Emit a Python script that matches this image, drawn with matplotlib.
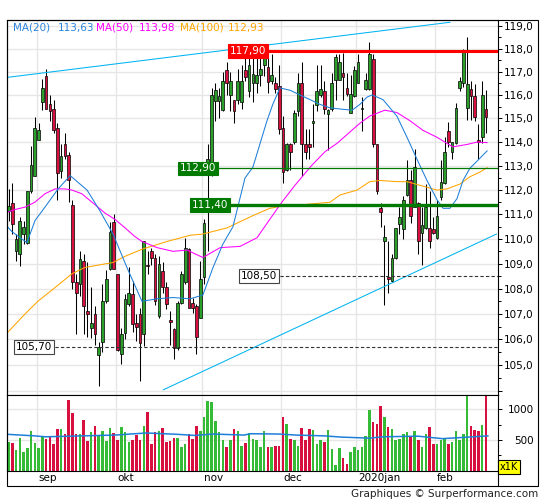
import matplotlib
matplotlib.use("Agg")
import matplotlib.pyplot as plt
import matplotlib.transforms as mtransforms
from matplotlib.ticker import FixedLocator, FuncFormatter, NullFormatter
from matplotlib.lines import Line2D
from matplotlib.patches import Rectangle
import numpy as np

# daily candles, aug 2019 -> feb 2020
opens = [111.15, 111.45, 109.5, 109.4, 110.2, 109.85, 111.95, 112.6, 114.1, 115.7,
         116.8, 115.6, 115.4, 114.6, 112.8, 113.9, 113.45, 111.4, 108.25, 108.2,
         109.1, 107.1, 106.45, 107.0, 105.4, 105.9, 107.5, 108.8, 110.7, 108.6,
         105.45, 106.25, 107.4, 107.8, 106.65, 107.0, 106.2, 108.95, 109.5, 109.25,
         106.9, 108.7, 108.05, 106.75, 106.4, 105.65, 107.45, 108.25, 109.6, 107.45,
         107.3, 106.85, 108.45, 112.7, 112.8, 115.75, 115.75, 115.35, 117.05, 116.0,
         115.8, 115.8, 115.7, 117.05, 116.15, 116.5, 116.5, 116.85, 117.3, 117.2,
         116.6, 116.5, 116.4, 114.6, 112.85, 113.9, 114.0, 115.3, 116.5, 113.9,
         113.9, 114.8, 115.55, 116.0, 116.15, 115.2, 115.4, 116.65, 116.65, 116.95,
         116.3, 115.25, 115.95, 116.5, 115.4, 116.25, 116.25, 117.55, 113.9, 111.25,
         109.9, 108.45, 108.3, 109.25, 110.6, 110.4, 111.8, 112.4, 111.3, 111.45,
         110.25, 110.45, 110.45, 110.4, 110.05, 111.7, 112.3, 114.45, 113.6, 113.95,
         116.3, 116.5, 115.45, 116.25, 115.95, 114.1, 114.2, 115.4]
highs = [112.05, 112.3, 110.2, 110.9, 110.75, 111.95, 113.85, 115.05, 114.8, 116.7,
         117.1, 116.0, 115.8, 114.8, 113.9, 114.4, 113.6, 111.6, 108.6, 109.5,
         109.4, 109.05, 108.05, 107.3, 105.9, 108.2, 108.75, 110.7, 111.0, 108.6,
         106.45, 107.8, 108.85, 108.3, 107.0, 107.25, 109.9, 109.5, 109.65, 109.4,
         109.3, 109.05, 108.25, 107.1, 106.45, 107.5, 108.7, 110.05, 109.65, 107.65,
         107.4, 109.1, 110.8, 113.9, 116.3, 116.5, 116.3, 117.0, 117.4, 117.0,
         115.8, 117.1, 117.3, 117.65, 117.7, 117.75, 117.6, 117.75, 117.9, 117.75,
         117.75, 116.75, 117.3, 115.1, 113.95, 113.95, 115.35, 116.95, 117.4, 114.55,
         114.55, 115.6, 117.3, 117.3, 116.6, 115.4, 116.95, 117.75, 117.75, 117.8,
         116.95, 116.85, 117.25, 117.75, 115.9, 116.95, 118.3, 117.75, 113.9, 111.45,
         110.55, 109.9, 109.4, 110.45, 111.3, 111.75, 113.25, 112.85, 113.7, 111.5,
         111.3, 112.25, 111.95, 110.9, 111.6, 113.25, 114.2, 114.85, 114.0, 115.65,
         116.75, 118.0, 118.5, 116.6, 116.45, 114.75, 116.6, 116.2]
lows = [110.75, 110.2, 109.1, 108.9, 109.8, 109.8, 111.9, 112.6, 114.1, 115.35,
        115.4, 114.9, 114.4, 111.6, 112.5, 113.3, 111.5, 108.0, 106.2, 107.7,
        106.2, 106.1, 106.05, 105.8, 104.2, 105.5, 107.45, 108.75, 108.8, 105.55,
        105.05, 106.0, 107.3, 106.3, 105.95, 104.4, 105.75, 108.6, 108.95, 107.35,
        106.85, 107.85, 107.2, 105.8, 105.25, 105.6, 107.4, 108.2, 107.25, 107.05,
        105.45, 106.85, 108.2, 109.5, 112.6, 114.9, 115.0, 115.3, 116.0, 115.3,
        114.8, 115.6, 115.4, 116.6, 115.9, 115.7, 116.1, 116.4, 116.8, 116.1,
        116.45, 116.1, 114.35, 112.3, 112.8, 112.85, 113.9, 115.1, 112.6, 113.3,
        113.3, 113.8, 115.3, 115.9, 115.2, 113.65, 115.3, 115.8, 116.65, 115.8,
        115.95, 115.25, 115.9, 116.5, 114.45, 116.2, 116.2, 113.8, 111.85, 110.5,
        107.35, 107.85, 108.25, 109.2, 110.2, 110.0, 111.75, 110.65, 111.3, 109.4,
        108.95, 110.4, 109.65, 110.2, 110.0, 111.6, 112.25, 113.8, 113.3, 113.9,
        116.15, 116.35, 114.95, 114.95, 114.9, 113.3, 113.95, 114.4]
closes = [111.35, 110.6, 110.0, 110.75, 110.5, 111.95, 113.05, 114.6, 114.5, 116.3,
          115.4, 115.3, 114.5, 112.7, 113.4, 113.4, 112.4, 108.25, 107.85, 109.2,
          107.3, 107.0, 106.65, 106.2, 105.7, 107.5, 108.4, 110.3, 108.8, 105.6,
          106.2, 107.6, 107.85, 106.6, 106.5, 105.85, 109.9, 108.9, 109.25, 107.5,
          109.0, 108.05, 107.4, 106.7, 105.65, 107.45, 108.6, 109.65, 107.25, 107.25,
          106.1, 108.4, 110.65, 113.3, 116.0, 116.2, 115.95, 116.6, 116.5, 116.6,
          115.3, 116.6, 116.6, 116.75, 117.3, 116.9, 116.85, 117.1, 117.75, 116.55,
          116.85, 116.25, 114.55, 112.75, 113.9, 113.6, 115.25, 116.5, 113.9, 113.6,
          113.8, 114.9, 116.15, 116.25, 115.4, 115.35, 116.5, 117.65, 117.4, 116.75,
          116.05, 116.05, 117.05, 117.4, 115.45, 116.65, 117.75, 113.9, 111.95, 111.1,
          110.1, 108.4, 109.25, 110.45, 110.9, 111.6, 112.4, 110.95, 112.95, 109.9,
          110.55, 111.3, 109.9, 110.25, 110.95, 112.35, 113.6, 114.0, 114.0, 115.45,
          116.6, 117.85, 116.45, 115.95, 115.05, 114.0, 116.0, 115.05]
volumes = [465, 450, 330, 530, 310, 360, 640, 450, 360, 560, 520, 540, 430, 680, 680,
           590, 1150, 930, 600, 600, 830, 480, 620, 730, 560, 650, 480, 700, 610,
           490, 710, 620, 470, 500, 580, 500, 720, 950, 430, 620, 640, 690, 460, 480,
           530, 530, 390, 430, 600, 520, 720, 650,
           880, 1130, 1110, 810, 620, 490, 380, 490, 670, 640, 400, 450, 610, 510, 490,
           380, 640, 380, 390, 400, 400,
           880, 760, 510, 500, 400, 700, 500, 680, 660, 440, 500, 460, 660, 350, 90,
           370, 200, 110, 310, 390,
           340, 390, 560, 990, 790, 760, 1050, 880, 710, 680, 490, 520, 590, 620, 560,
           650, 490, 380, 600, 710, 430,
           430, 500, 520, 430, 470, 640, 490, 590, 1210, 720, 660, 640, 750, 1250]

months = ["sep", "okt", "nov", "dec", "2020jan", "feb"]
month_start = [8, 29, 52, 73, 93, 114]

# moving averages (candle index, value)
ma20_x = [-0.9, 0.9, 3.1, 4.9, 7.05, 9.7, 13.2, 16.4, 20.9, 24.3, 27.8, 31.5, 35.5,
          39.5, 43.75, 48.3, 51.7, 54.4, 57.05, 59.7, 62.9, 65.0, 68.75, 70.3, 72.2,
          74.9, 77.5, 80.2, 82.8, 85.5, 88.2, 91.4, 93.5, 95.3, 96.7, 99.6, 103.3,
          106.0, 108.6, 111.3, 114.0, 115.6, 117.4, 119.3, 120.9, 122.7, 124.6, 127.3]
ma20_y = [110.6, 110.3, 110.05, 109.85, 110.75, 111.3, 112.05, 112.6, 112.0, 111.15,
          110.2, 108.85, 107.5, 107.6, 107.65, 107.6, 107.75, 108.85, 109.8, 110.5,
          112.5, 112.95, 114.9, 115.6, 116.3, 116.2, 116.0, 115.8, 115.6, 115.45,
          115.4, 115.35, 115.6, 115.9, 116.0, 115.8, 115.1, 114.2, 113.3, 112.4,
          111.6, 111.25, 111.25, 111.65, 112.4, 112.9, 113.2, 113.63]
ma50_x = [-0.9, 1.7, 4.4, 7.0, 9.7, 12.4, 15.0, 16.9, 19.5, 23.0, 25.7, 28.3, 31.0,
          33.6, 35.5, 39.5, 43.75, 47.5, 51.7, 56.3, 61.6, 66.1, 69.5, 72.7, 76.2,
          80.5, 84.2, 87.4, 93.5, 96.1, 100.1, 103.3, 106.8, 110.2, 114.0, 116.6,
          118.2, 121.9, 124.6, 127.3]
ma50_y = [111.05, 111.2, 111.3, 111.5, 111.85, 112.05, 112.05, 112.0, 111.85, 111.4,
          111.05, 110.8, 110.45, 110.1, 109.9, 109.65, 109.5, 109.55, 109.25, 109.65,
          109.7, 110.05, 110.8, 111.5, 112.2, 113.0, 113.6, 113.95, 114.8, 115.1,
          115.35, 115.25, 114.9, 114.5, 114.2, 113.95, 113.8, 113.9, 114.0, 113.98]
ma100_x = [-0.4, 4.4, 7.8, 12.4, 16.9, 20.3, 27.8, 31.0, 35.8, 42.2, 48.3, 51.7, 58.1,
           65.0, 69.5, 74.9, 78.3, 85.5, 88.2, 92.7, 96.1, 98.8, 103.3, 106.0, 109.4,
           114.0, 116.6, 120.1, 122.7, 125.4, 127.3]
ma100_y = [106.25, 107.0, 107.5, 108.05, 108.6, 108.85, 109.05, 109.3, 109.6, 109.9,
           110.15, 110.2, 110.45, 110.95, 111.25, 111.4, 111.4, 111.5, 111.8, 112.0,
           112.35, 112.4, 112.35, 112.35, 112.2, 112.0, 112.05, 112.25, 112.55, 112.75,
           112.93]
vol_ma_x = [-0.2, 7.0, 9.8, 16.3, 28.3, 36.7, 45.0, 49.6, 54.3, 62.6, 64.5, 71.9,
            76.5, 83.9, 88.6, 96.0, 99.7, 108.9, 115.4, 121.0, 127.5]
vol_ma_y = [590, 565, 550, 560, 578, 612, 590, 572, 595, 578, 600, 595, 578, 565,
            545, 528, 550, 560, 520, 540, 565]

# trend lines (two anchors each) and horizontal levels
trend_hi = [(-0.5, 116.75), (117.4, 119.15)]
trend_lo = [(41.2, 104.05), (129.8, 110.2)]
levels = [117.90, 112.90, 111.40, 108.50, 105.70]
level_from = [58.9, 45.6, 48.8, 61.8, 1.9]

W, H = 545, 500
GREEN = "#2a9f2a"
VGREEN = "#36bb36"
RED = "#d81040"
GRID = "#e6e6e6"


def fx(px):
    return px / W


def fy(py):
    return 1 - py / H


def fmt_comma(v, pos=None, nd=1):
    return f"{v:.{nd}f}".replace(".", ",")


fig = plt.figure(figsize=(W / 100, H / 100), dpi=100)
ax = fig.add_axes([fx(7), fy(395), 491 / W, 375 / H])
axv = fig.add_axes([fx(7), fy(470.6), 491 / W, 75.6 / H], sharex=ax)

n = len(closes)
x = np.arange(n)
o = np.array(opens)
c = np.array(closes)
h = np.array(highs)
l = np.array(lows)
up = c >= o

ax.set_yscale("log")
ax.set_xlim(-0.4, 130.2)
ax.set_ylim(103.85, 119.25)

# grid
for m in month_start:
    ax.axvline(m - 0.5, color=GRID, lw=1, zorder=0)
    axv.axvline(m - 0.5, color=GRID, lw=1, zorder=0)
ax.yaxis.set_major_locator(FixedLocator(np.arange(104, 120)))
ax.yaxis.set_minor_locator(FixedLocator(np.arange(104.5, 119.5, 1.0)))
ax.yaxis.set_major_formatter(FuncFormatter(lambda v, p: "" if v < 104.5 else fmt_comma(v)))
ax.yaxis.set_minor_formatter(NullFormatter())
ax.grid(axis="y", which="major", color=GRID, lw=1, zorder=0)
ax.set_axisbelow(True)

# candles
ax.vlines(x, l, h, color="black", lw=0.75, zorder=3)
body_bottom = np.minimum(o, c)
body_h = np.maximum(np.abs(c - o), 0.03)
ax.bar(x, body_h, bottom=body_bottom, width=0.72,
       color=np.where(up, GREEN, RED), edgecolor="black", linewidth=0.5, zorder=4)

# moving averages
ax.plot(ma100_x, ma100_y, color="#ffa500", lw=0.75, zorder=5)
ax.plot(ma50_x, ma50_y, color="#ff00ff", lw=0.75, zorder=5)
ax.plot(ma20_x, ma20_y, color="#1e7fd8", lw=0.75, zorder=5)

# trend lines
for tl in (trend_hi, trend_lo):
    ax.plot([tl[0][0], tl[1][0]], [tl[0][1], tl[1][1]], color="#00b4f0", lw=0.75, zorder=5)

# levels with labels
lvl_style = [
    dict(color="#ff0000", lw=2.2, ls="-", box="#ff0000", txt="white", ec="#ff0000"),
    dict(color="#007a00", lw=0.9, ls="-", box="#007a00", txt="white", ec="#007a00"),
    dict(color="#007a00", lw=2.4, ls="-", box="#007a00", txt="white", ec="#007a00"),
    dict(color="#333333", lw=0.8, ls=(0, (3, 2)), box="white", txt="black", ec="#444444"),
    dict(color="#333333", lw=0.8, ls=(0, (3, 2)), box="white", txt="black", ec="#444444"),
]
for v, x0, st in zip(levels, level_from, lvl_style):
    ax.hlines(v, x0, 130.2, color=st["color"], lw=st["lw"], linestyles=st["ls"], zorder=6)
    ax.text(x0, v, fmt_comma(v, nd=2), fontsize=7.5, color=st["txt"], ha="left",
            va="center", zorder=8,
            bbox=dict(boxstyle="square,pad=0.18", fc=st["box"], ec=st["ec"], lw=0.8))

# right axis
ax.yaxis.tick_right()
ax.tick_params(axis="y", which="both", direction="out", right=True, left=False,
               labelright=True, labelleft=False, labelsize=7.5, pad=1.5, width=0.7)
ax.tick_params(axis="y", which="major", length=3)
ax.tick_params(axis="y", which="minor", length=2)
ax.tick_params(axis="x", which="both", bottom=False, top=False, labelbottom=False)
for sp in ax.spines.values():
    sp.set_linewidth(0.8)
    sp.set_color("black")

# legend
legend_items = [("MA(20)", "#2a84dc", 13), (fmt_comma(ma20_y[-1], nd=2), "#2a84dc", 57.5),
                ("MA(50)", "#ff00ff", 96), (fmt_comma(ma50_y[-1], nd=2), "#ff00ff", 139),
                ("MA(100)", "#ffa500", 180), (fmt_comma(ma100_y[-1], nd=2), "#ffa500", 228)]
for txt, col, px in legend_items:
    fig.text(fx(px), fy(28), txt, color=col, fontsize=7.5, ha="left", va="center")

# volume
axv.bar(x, volumes, width=0.68, color=np.where(up, VGREEN, RED), zorder=2)
axv.plot(vol_ma_x, vol_ma_y, color="#1e7fd8", lw=1.1, zorder=3)
axv.set_ylim(0, 1230)
axv.yaxis.set_major_locator(FixedLocator([500, 1000]))
axv.yaxis.set_minor_locator(FixedLocator([250, 750, 1250]))
axv.grid(axis="y", which="major", color=GRID, lw=1, zorder=0)
axv.set_axisbelow(True)
axv.yaxis.tick_right()
axv.tick_params(axis="y", which="both", direction="out", right=True, left=False,
                labelright=True, labelleft=False, labelsize=7.5, width=0.7, pad=23)
axv.tick_params(axis="y", which="major", length=3)
axv.tick_params(axis="y", which="minor", length=2)
for lbl in axv.get_yticklabels():
    lbl.set_horizontalalignment("right")
axv.tick_params(axis="x", which="both", bottom=False, top=False, labelbottom=False)
for sp in axv.spines.values():
    sp.set_linewidth(0.8)
    sp.set_color("black")

trans = mtransforms.blended_transform_factory(axv.transData, axv.transAxes)
for lab, m in zip(months, month_start):
    axv.text(m, -0.1, lab, transform=trans, fontsize=7.5, ha="left", va="center",
             clip_on=False)

# x1K box
fig.text(fx(509), fy(467), "x1K", fontsize=7, ha="center", va="center",
         bbox=dict(boxstyle="square,pad=0.2", fc="#ffff00", ec="black", lw=0.8))

# outer frame
fig.add_artist(Rectangle((fx(7), fy(485.6)), 531 / W, 465.6 / H, transform=fig.transFigure,
                         fill=False, ec="black", lw=0.8))
fig.add_artist(Line2D([fx(498), fx(498)], [fy(485.6), fy(470.6)], transform=fig.transFigure,
                      color="black", lw=0.8))

fig.text(fx(538), fy(494), "Graphiques \u00a9 Surperformance.com", fontsize=7.5,
         color="#222222", ha="right", va="center")

fig.savefig("out.png", dpi=100)
